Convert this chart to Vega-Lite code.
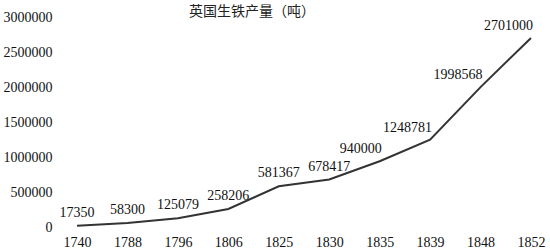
{
  "$schema": "https://vega.github.io/schema/vega-lite/v6.json",
  "autosize": "none",
  "width": 492,
  "height": 210,
  "padding": {"left": 58, "top": 17, "right": 0, "bottom": 22},
  "background": "white",
  "title": {
    "text": "英国生铁产量（吨）",
    "anchor": "start",
    "frame": "group",
    "dx": 131,
    "dy": 25,
    "offset": 2,
    "baseline": "bottom",
    "font": "Noto Sans CJK SC",
    "fontSize": 14,
    "fontWeight": "normal",
    "color": "#222"
  },
  "data": {
    "values": [
      {"year": "1740", "tons": 17350},
      {"year": "1788", "tons": 58300},
      {"year": "1796", "tons": 125079},
      {"year": "1806", "tons": 258206},
      {"year": "1825", "tons": 581367},
      {"year": "1830", "tons": 678417},
      {"year": "1835", "tons": 940000},
      {"year": "1839", "tons": 1248781},
      {"year": "1848", "tons": 1998568},
      {"year": "1852", "tons": 2701000}
    ]
  },
  "encoding": {
    "x": {
      "field": "year",
      "type": "ordinal",
      "sort": null,
      "scale": {"type": "point", "padding": 0.377},
      "axis": {
        "title": null,
        "domain": false,
        "ticks": false,
        "grid": false,
        "labelAngle": 0,
        "labelPadding": 8,
        "labelFont": "Liberation Serif",
        "labelFontSize": 14,
        "labelColor": "#111"
      }
    },
    "y": {
      "field": "tons",
      "type": "quantitative",
      "scale": {"domain": [0, 3000000], "nice": false},
      "axis": {
        "title": null,
        "domain": false,
        "ticks": false,
        "grid": false,
        "values": [0, 500000, 1000000, 1500000, 2000000, 2500000, 3000000],
        "format": "d",
        "labelPadding": 6,
        "labelFont": "Liberation Serif",
        "labelFontSize": 14,
        "labelColor": "#111"
      }
    }
  },
  "layer": [
    {
      "mark": {"type": "line", "color": "#333", "strokeWidth": 2}
    },
    {
      "transform": [{"filter": "datum.tons < 900000"}],
      "mark": {
        "type": "text",
        "baseline": "bottom",
        "dy": -6,
        "font": "Liberation Serif",
        "fontSize": 14,
        "color": "#111"
      },
      "encoding": {"text": {"field": "tons", "type": "quantitative", "format": "d"}}
    },
    {
      "transform": [{"filter": "datum.tons >= 900000"}],
      "mark": {
        "type": "text",
        "baseline": "bottom",
        "align": "right",
        "dx": 2,
        "dy": -5,
        "font": "Liberation Serif",
        "fontSize": 14,
        "color": "#111"
      },
      "encoding": {"text": {"field": "tons", "type": "quantitative", "format": "d"}}
    }
  ],
  "config": {"view": {"stroke": null}}
}
